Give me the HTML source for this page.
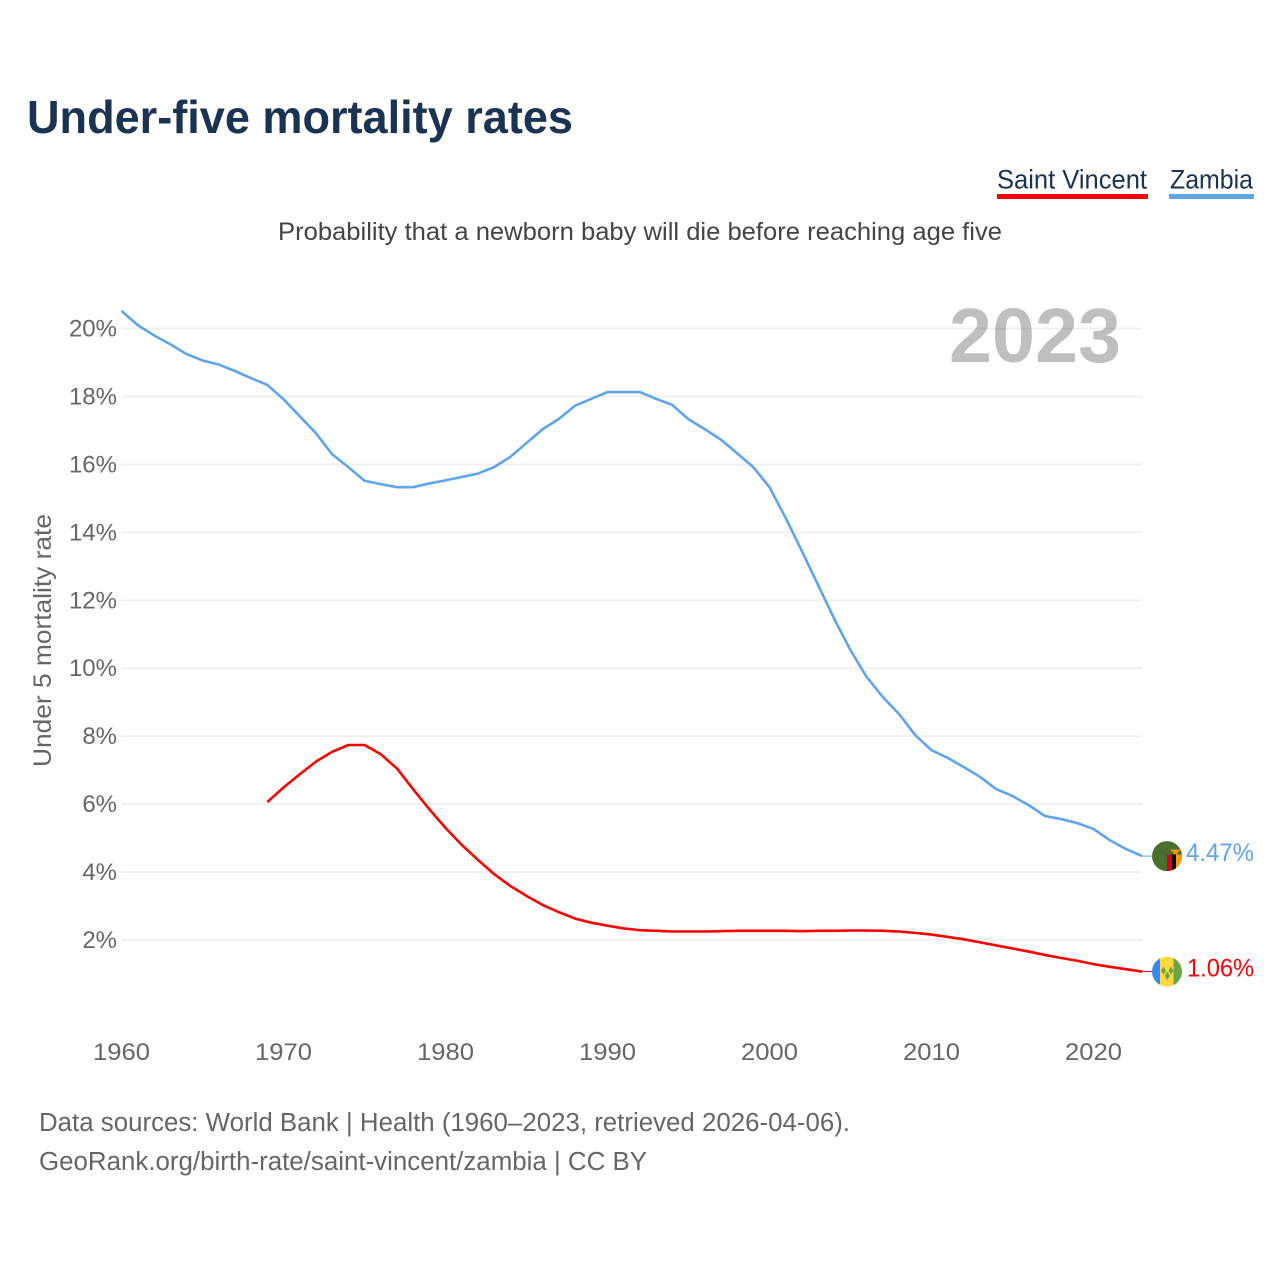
<!DOCTYPE html>
<html>
<head>
<meta charset="utf-8">
<title>Under-five mortality rates</title>
<style>
html,body{margin:0;padding:0;background:#fff;}
svg{display:block;font-family:"Liberation Sans",sans-serif;}
</style>
</head>
<body>
<svg id="chart" xmlns="http://www.w3.org/2000/svg" width="1280" height="1280" viewBox="0 0 1280 1280">
  <rect x="0" y="0" width="1280" height="1280" fill="#fff"/>
  <text x="27" y="133" font-size="46" font-weight="700" fill="#1a3352" textLength="546" lengthAdjust="spacingAndGlyphs">Under-five mortality rates</text>

  <g>
    <text x="997" y="188.5" font-size="27" fill="#1a3352" textLength="150" lengthAdjust="spacingAndGlyphs">Saint Vincent</text>
    <rect x="997" y="194" width="151" height="5" fill="#ff0000"/>
  </g>
  <g>
    <text x="1170" y="188.5" font-size="27" fill="#1a3352" textLength="83" lengthAdjust="spacingAndGlyphs">Zambia</text>
    <rect x="1169" y="194" width="85" height="5" fill="#60a5ec"/>
  </g>

  <text x="278" y="240" font-size="25" fill="#444" textLength="724" lengthAdjust="spacingAndGlyphs">Probability that a newborn baby will die before reaching age five</text>

  <g id="grid"></g>
  <text x="949" y="362" font-size="77" font-weight="700" fill="#000" fill-opacity="0.25" textLength="172" lengthAdjust="spacingAndGlyphs">2023</text>
  <g id="ylabels"></g>
  <g id="xlabels"></g>
  <text transform="translate(51 767) rotate(-90)" font-size="25" fill="#666" textLength="253" lengthAdjust="spacingAndGlyphs">Under 5 mortality rate</text>
  <g id="series"></g>

  <g id="flag-zambia">
    <clipPath id="clip-zm"><circle cx="0" cy="0" r="15"/></clipPath>
    <g clip-path="url(#clip-zm)">
      <rect x="-15" y="-15" width="30" height="30" fill="#496e2d"/>
      <rect x="0" y="-1.5" width="5" height="17" fill="#d80027"/>
      <rect x="5" y="-1.5" width="4" height="17" fill="#000"/>
      <rect x="9" y="-1.5" width="6" height="17" fill="#ff9811"/>
      <path d="M3 -6.5 L14 -6.5 L11 -4 L10 -2 L7 -2 L6 -4 Z" fill="#ff9811"/>
    </g>
  </g>
  <g id="flag-vc">
    <clipPath id="clip-vc"><circle cx="0" cy="0" r="15"/></clipPath>
    <g clip-path="url(#clip-vc)">
      <rect x="-15" y="-15" width="8" height="30" fill="#338af3"/>
      <rect x="-7" y="-15" width="13.5" height="30" fill="#ffda44"/>
      <rect x="6.5" y="-15" width="8.5" height="30" fill="#6da544"/>
      <path d="M-6 -1 L-3.5 -5 L-1 -1 L-3.5 3 Z M1.5 -1 L4 -5 L6.5 -1 L4 3 Z M-2.2 4 L0.3 0 L2.8 4 L0.3 8.5 Z" fill="#6da544"/>
    </g>
  </g>
  <g id="end-labels"></g>

  <text x="39" y="1131" font-size="25.5" fill="#666" textLength="811" lengthAdjust="spacingAndGlyphs">Data sources: World Bank | Health (1960–2023, retrieved 2026-04-06).</text>
  <text x="39" y="1170" font-size="25.5" fill="#666" textLength="608" lengthAdjust="spacingAndGlyphs">GeoRank.org/birth-rate/saint-vincent/zambia | CC BY</text>
</svg>

<script>
const yTicks = [2, 4, 6, 8, 10, 12, 14, 16, 18, 20];
const xTicks = [1960, 1970, 1980, 1990, 2000, 2010, 2020];
const zambiaStart = 1960;
const zambiaValues = [
  20.52, 20.10, 19.80, 19.54, 19.25, 19.06, 18.94, 18.75, 18.54, 18.34,
  17.92, 17.42, 16.92, 16.30, 15.92, 15.52, 15.42, 15.33, 15.33, 15.44,
  15.53, 15.63, 15.73, 15.92, 16.22, 16.63, 17.04, 17.34, 17.73, 17.93,
  18.13, 18.13, 18.13, 17.93, 17.75, 17.33, 17.04, 16.73, 16.33, 15.92,
  15.33, 14.42, 13.45, 12.45, 11.45, 10.53, 9.74, 9.15, 8.65, 8.03,
  7.59, 7.36, 7.09, 6.80, 6.44, 6.24, 5.97, 5.65, 5.56, 5.44,
  5.27, 4.94, 4.68, 4.47
];
const vincentStart = 1969;
const vincentValues = [
  6.06, 6.49, 6.88, 7.25, 7.54, 7.74, 7.74, 7.47, 7.05, 6.44,
  5.85, 5.30, 4.80, 4.36, 3.94, 3.59, 3.30, 3.03, 2.82, 2.63,
  2.51, 2.42, 2.34, 2.29, 2.27, 2.25, 2.25, 2.25, 2.26, 2.27,
  2.27, 2.27, 2.27, 2.26, 2.27, 2.27, 2.28, 2.28, 2.27, 2.25,
  2.21, 2.16, 2.09, 2.02, 1.93, 1.84, 1.75, 1.66, 1.56, 1.47,
  1.39, 1.29, 1.21, 1.14, 1.07
];
const zambiaLabel = "4.47%";
const vincentLabel = "1.06%";

const NS = "http://www.w3.org/2000/svg";
function xScale(year) { return 121.5 + (year - 1960) * 16.2; }
function yScale(v) { return 940 - (v - 2) * 33.97; }
function linePoints(start, values) {
  return values.map(function (v, i) {
    return xScale(start + i).toFixed(2) + "," + yScale(v).toFixed(2);
  }).join(" ");
}
function make(tag, parent, attrs, text) {
  const el = document.createElementNS(NS, tag);
  for (const k in attrs) el.setAttribute(k, attrs[k]);
  if (text !== undefined) el.textContent = text;
  parent.appendChild(el);
  return el;
}

const grid = document.getElementById("grid");
const ylabels = document.getElementById("ylabels");
const xlabels = document.getElementById("xlabels");
const series = document.getElementById("series");
const endLabels = document.getElementById("end-labels");
const lastYear = 2023;

yTicks.forEach(function (t) {
  const line = make("line", grid, { x1: 121, x2: xScale(lastYear), y1: yScale(t), y2: yScale(t), stroke: "#eeeeee", "stroke-width": 1.6 });
  
  
  const label = make("text", ylabels, { x: 117, y: yScale(t) + 8, "text-anchor": "end", "font-size": 24, fill: "#666" }, t + "%");
  
  
});

xTicks.forEach(function (t) {
  const label = make("text", xlabels, { x: xScale(t), y: 1060, "text-anchor": "middle", "font-size": 24, fill: "#666", textLength: 57, lengthAdjust: "spacingAndGlyphs" }, String(t));
  
  
});

const zambiaLine = make("polyline", series, { points: linePoints(zambiaStart, zambiaValues), fill: "none", stroke: "#60a5ec", "stroke-width": 2.6, "stroke-linejoin": "round" });


const vincentLine = make("polyline", series, { points: linePoints(vincentStart, vincentValues), fill: "none", stroke: "#ff0000", "stroke-width": 2.6, "stroke-linejoin": "round" });



const zEnd = yScale(zambiaValues[zambiaValues.length - 1]);
const vEnd = yScale(vincentValues[vincentValues.length - 1]);

const zTail = make("line", series, { x1: xScale(lastYear), x2: 1152, y1: zEnd, y2: zEnd, stroke: "#60a5ec", "stroke-width": 1 });


const vTail = make("line", series, { x1: xScale(lastYear), x2: 1152, y1: vEnd, y2: vEnd, stroke: "#ff0000", "stroke-width": 1 });



document.getElementById("flag-zambia").setAttribute("transform", "translate(1167 " + zEnd + ")");
document.getElementById("flag-vc").setAttribute("transform", "translate(1167 " + vEnd + ")");

const zLabel = make("text", endLabels, { x: 1186, y: zEnd + 5, "font-size": 25, fill: "#60a5ec", textLength: 68, lengthAdjust: "spacingAndGlyphs" }, zambiaLabel);


const vLabel = make("text", endLabels, { x: 1187, y: vEnd + 5, "font-size": 25, fill: "#ff0000", textLength: 67, lengthAdjust: "spacingAndGlyphs" }, vincentLabel);


</script>
</body>
</html>
